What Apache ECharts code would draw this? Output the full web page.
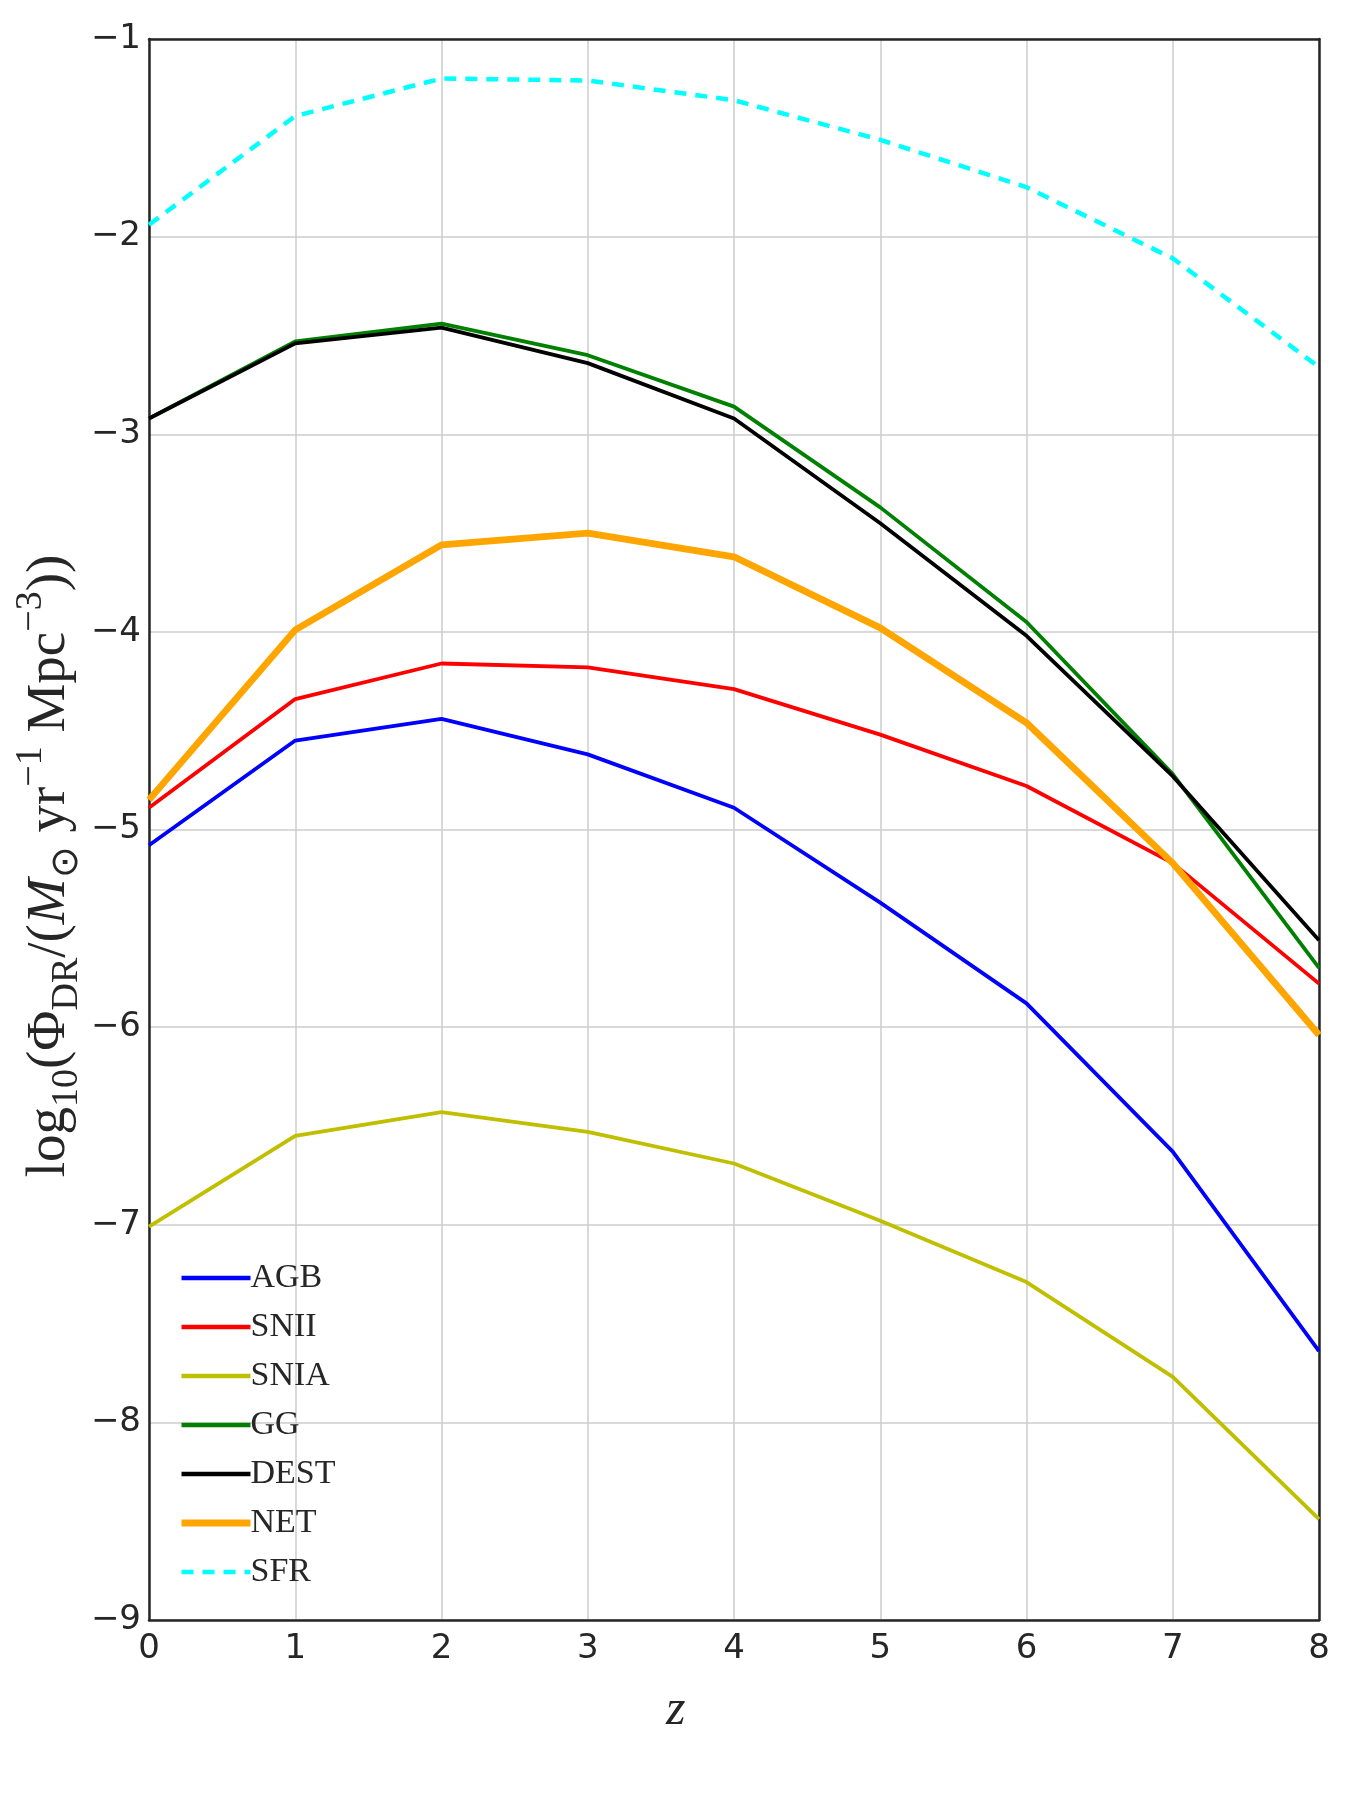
<!DOCTYPE html>
<html>
<head>
<meta charset="utf-8">
<script src="https://cdn.jsdelivr.net/npm/echarts@6/dist/echarts.min.js"></script>
<style>
    html, body { margin: 0; padding: 0; background: #fff; }
    #chart { width: 1350px; height: 1800px; }
</style>
</head>
<body>
<div id="chart"></div>
<script>
// redshift grid
var zValues = [0, 1, 2, 3, 4, 5, 6, 7, 8];

// log10 dust rate per channel
var agb  = [-5.08, -4.55, -4.44, -4.62, -4.89, -5.37, -5.88, -6.63, -7.64];
var snii = [-4.89, -4.34, -4.16, -4.18, -4.29, -4.52, -4.78, -5.17, -5.78];
var snia = [-7.01, -6.55, -6.43, -6.53, -6.69, -6.98, -7.29, -7.77, -8.49];
var gg   = [-2.92, -2.53, -2.44, -2.60, -2.86, -3.37, -3.95, -4.72, -5.70];
var dest = [-2.92, -2.54, -2.46, -2.64, -2.92, -3.45, -4.02, -4.73, -5.56];
var net  = [-4.85, -3.99, -3.56, -3.50, -3.62, -3.98, -4.46, -5.17, -6.04];
var sfr  = [-1.94, -1.39, -1.20, -1.21, -1.31, -1.51, -1.75, -2.11, -2.66];

var yTicks = [-9, -8, -7, -6, -5, -4, -3, -2, -1];
var names = ["AGB", "SNII", "SNIA", "GG", "DEST", "NET", "SFR"];
var colors = ["#0000ff", "#ff0000", "#bfbf00", "#008000", "#000000", "#ffa500", "#00ffff"];
var widths = [3.8, 3.8, 3.8, 3.8, 3.8, 6.8, 4.5];

function pairs(vals) {
    return zValues.map(function (z, i) { return [z, vals[i]]; });
}

function lineSeries(idx, vals, dash) {
    return {
        name: names[idx],
        type: "line",
        data: pairs(vals),
        symbol: "none",
        showSymbol: false,
        silent: true,
        animation: false,
        color: colors[idx],
        lineStyle: { color: colors[idx], width: widths[idx], type: dash || "solid" }
    };
}

var chart = echarts.init(document.getElementById("chart"));

var serif = "Liberation Serif";
var ink = "#262626";

var option = {
    backgroundColor: "#ffffff",
    animation: false,
    grid: {
        left: 149,
        right: 31,
        top: 39,
        bottom: 180
    },
    legend: {
        orient: "vertical",
        left: 178,
        top: 1261,
        padding: 0,
        itemWidth: 69,
        itemHeight: 14,
        itemGap: 15,
        selectedMode: false,
        itemStyle: { opacity: 0 },
        textStyle: {
            fontFamily: serif,
            fontSize: 34,
            color: ink,
            lineHeight: 30,
            padding: [0, 0, 0, -5]
        },
        data: names.map(function (n, i) {
            return {
                name: n,
                itemStyle: { opacity: 0 },
                lineStyle: { color: colors[i], width: i === 5 ? 7 : 4.5, type: n === "SFR" ? [12, 9] : "solid" }
            };
        })
    },
    xAxis: [
        {
            type: "value",
            min: 0,
            max: 8,
            interval: 1,
            axisLine: { show: true, onZero: false, lineStyle: { color: ink, width: 2.5 } },
            axisTick: { show: false },
            axisLabel: {
                margin: 12,
                fontFamily: "DejaVu Sans",
                fontSize: 34,
                color: ink
            },
            splitLine: { show: true, lineStyle: { color: "#cccccc", width: 1.5 } }
        },
        {
            // top frame line
            type: "value",
            position: "top",
            min: 0,
            max: 8,
            interval: 1,
            axisLine: { show: true, onZero: false, lineStyle: { color: ink, width: 2.5 } },
            axisTick: { show: false },
            axisLabel: { show: false },
            splitLine: { show: false }
        }
    ],
    yAxis: [
        {
            type: "value",
            min: -9,
            max: -1,
            interval: 1,
            axisLine: { show: true, onZero: false, lineStyle: { color: ink, width: 2.5 } },
            axisTick: { show: false },
            axisLabel: {
                margin: 8,
                fontFamily: "DejaVu Sans",
                fontSize: 34,
                color: ink,
                formatter: function (v) {
                    return yTicks.indexOf(v) >= 0 ? String(v).replace("-", "\u2212") : "";
                }
            },
            splitLine: { show: true, lineStyle: { color: "#cccccc", width: 1.5 } }
        },
        {
            // right frame line
            type: "value",
            position: "right",
            min: -9,
            max: -1,
            interval: 1,
            axisLine: { show: true, onZero: false, lineStyle: { color: ink, width: 2.5 } },
            axisTick: { show: false },
            axisLabel: { show: false },
            splitLine: { show: false }
        }
    ],
    graphic: [
        {
            type: "text",
            left: 666,
            top: 1686,
            style: {
                text: "z",
                font: "italic 50px 'Liberation Serif'",
                fill: ink
            }
        },
        {
            type: "text",
            x: 50,
            y: 866,
            rotation: Math.PI / 2,
            style: {
                text: "{n|log}{s|10}{n|(Φ}{s|DR}{n|/(}{i|M}{s|⊙}{n| yr}{p|−1}{n| Mpc}{p|−3}{n|))}",
                align: "center",
                verticalAlign: "middle",
                fill: ink,
                rich: {
                    n: { fontFamily: serif, fontSize: 55, fill: ink, lineHeight: 76, verticalAlign: "middle" },
                    i: { fontFamily: serif, fontStyle: "italic", fontSize: 55, fill: ink, lineHeight: 76, verticalAlign: "middle" },
                    s: { fontFamily: serif, fontSize: 38, fill: ink, lineHeight: 76, verticalAlign: "bottom", padding: [0, 0, 2, 0] },
                    p: { fontFamily: serif, fontSize: 38, fill: ink, lineHeight: 76, verticalAlign: "top", padding: [0, 0, 0, 0] }
                }
            }
        }
    ],
    series: [
        lineSeries(0, agb),
        lineSeries(1, snii),
        lineSeries(2, snia),
        lineSeries(3, gg),
        lineSeries(4, dest),
        lineSeries(5, net),
        lineSeries(6, sfr, [12, 9])
    ]
};

chart.setOption(option);
</script>
</body>
</html>
